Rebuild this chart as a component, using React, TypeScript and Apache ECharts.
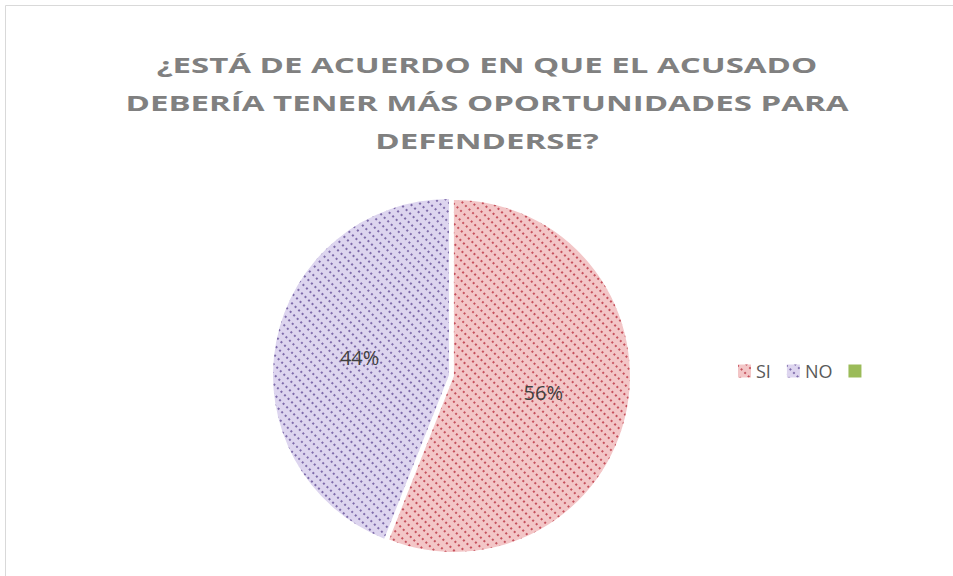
import React, { useEffect, useRef } from "react";
import * as echarts from "echarts";

const titleLines = [
  "¿ESTÁ DE ACUERDO EN QUE EL ACUSADO",
  "DEBERÍA TENER MÁS OPORTUNIDADES PARA",
  "DEFENDERSE?",
];
const categories = ["SI", "NO", " "];
const values = [56, 44, 0];
const colors = ["#f3c6c7", "#ddd5ef", "#9bbb59"];
const dotColors = ["#c5505c", "#7d6aa9", "#9bbb59"];

export default function App() {
  const ref = useRef<HTMLDivElement>(null);
  useEffect(() => {
    if (!ref.current) return;
    const chart = echarts.init(ref.current, undefined, { renderer: "svg" });
    const data = categories.map((name, i) => ({
      name,
      value: values[i],
      selected: i === 0,
      itemStyle: {
        color: colors[i],
        decal:
          i < 2
            ? {
                symbol: "rect",
                symbolSize: 1,
                color: dotColors[i],
                dashArrayX: [[2, 3]],
                dashArrayY: [2, 5],
                rotation: Math.PI / 4,
              }
            : "none",
      },
      label: { show: values[i] > 0 },
    }));
    chart.setOption({
      animation: false,
      aria: { enabled: false },
      legend: {
        data: categories,
        left: 733,
        top: 357,
        icon: "rect",
        itemWidth: 13,
        itemHeight: 13,
        itemGap: 16,
        selectedMode: false,
        textStyle: { fontFamily: "Open Sans", fontSize: 18, color: "#595959" },
      },
      graphic: [
        {
          type: "rect",
          shape: { x: 5.5, y: 5.5, width: 1000, height: 700 },
          style: { fill: "none", stroke: "#d9d9d9", lineWidth: 1 },
          silent: true,
        },
        {
          type: "text",
          x: 487,
          y: 45,
          scaleX: 1.5,
          silent: true,
          style: {
            text: titleLines.join("\n"),
            align: "center",
            verticalAlign: "top",
            fontFamily: "Open Sans",
            fontWeight: "bold",
            fontSize: 22,
            lineHeight: 38,
            fill: "#808080",
          },
        },
      ],
      series: [
        {
          type: "pie",
          center: [449, 375],
          radius: 176,
          startAngle: 90,
          clockwise: true,
          selectedMode: "single",
          selectedOffset: 5,
          avoidLabelOverlap: false,
          label: {
            position: "inside",
            formatter: "{d}%",
            fontFamily: "Open Sans",
            fontSize: 20,
            color: "#404040",
          },
          labelLine: { show: false },
          emphasis: { disabled: true },
          data,
        },
      ],
    });
    return () => chart.dispose();
  }, []);
  return (
    <div
      ref={ref}
      style={{ position: "fixed", left: 0, top: 0, width: 953, height: 576, background: "#fff" }}
    />
  );
}
